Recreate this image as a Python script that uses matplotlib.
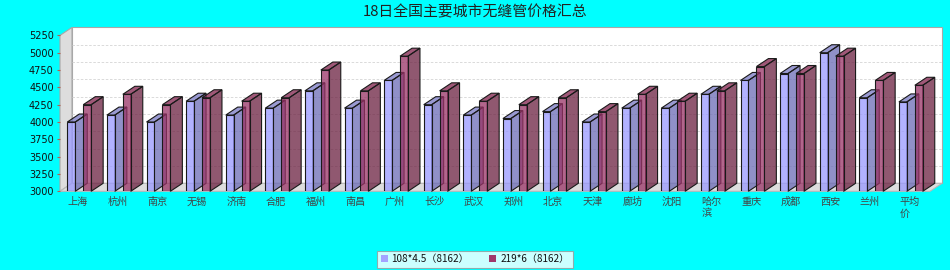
import numpy as np
import matplotlib
matplotlib.use("Agg")
import matplotlib.pyplot as plt
from matplotlib.patches import Polygon, Patch

plt.rcParams['font.family'] = ['Noto Sans CJK SC', 'DejaVu Sans']

title = "18日全国主要城市无缝管价格汇总"
cities = ["上海", "杭州", "南京", "无锡", "济南", "合肥", "福州", "南昌", "广州", "长沙",
          "武汉", "郑州", "北京", "天津", "廊坊", "沈阳", "哈尔\n滨", "重庆", "成都", "西安",
          "兰州", "平均\n价"]
series_names = ["108*4.5（8162）", "219*6（8162）"]
s1 = [4000, 4100, 4000, 4300, 4100, 4200, 4450, 4200, 4600, 4250,
      4100, 4050, 4150, 4000, 4200, 4200, 4400, 4600, 4700, 5000,
      4350, 4290]
s2 = [4250, 4400, 4250, 4350, 4300, 4350, 4750, 4450, 4950, 4450,
      4300, 4250, 4350, 4150, 4400, 4300, 4450, 4800, 4700, 4950,
      4600, 4530]
yticks = list(range(3000, 5251, 250))

W, H = 950, 270
fig = plt.figure(figsize=(9.5, 2.7), dpi=100, facecolor='#00ffff')
ax_l, ax_b, ax_w, ax_h = 60, 191.3, 870, 155.9
ax = fig.add_axes([ax_l / W, 1 - ax_b / H, ax_w / W, ax_h / H])
ax.set_facecolor('none')
xmin, xmax = -0.455, 21.515
ymin, ymax = 3000, 5250
ax.set_xlim(xmin, xmax)
ax.set_ylim(ymin, ymax)
for s in ax.spines.values():
    s.set_visible(False)

dx = 12 * (xmax - xmin) / ax_w
dy = 8 * (ymax - ymin) / ax_h

# walls
ax.add_patch(Polygon([(xmin + dx, ymin + dy), (xmax + dx, ymin + dy), (xmax + dx, ymax + dy), (xmin + dx, ymax + dy)],
                     closed=True, fc='white', ec='#a8a8a8', lw=0.8, clip_on=False, zorder=0))
ax.add_patch(Polygon([(xmin, ymin), (xmin + dx, ymin + dy), (xmin + dx, ymax + dy), (xmin, ymax)],
                     closed=True, fc='#dddddd', ec='#a8a8a8', lw=0.8, clip_on=False, zorder=0.2))
ax.add_patch(Polygon([(xmin, ymin), (xmax, ymin), (xmax + dx, ymin + dy), (xmin + dx, ymin + dy)],
                     closed=True, fc='#dddddd', ec='#b8b8b8', lw=0.8, clip_on=False, zorder=0.2))
for v in yticks[1:-1]:
    ax.plot([xmin + dx, xmax + dx], [v + dy, v + dy], color='#d4d4d4', lw=0.6,
            ls=(0, (3, 2)), clip_on=False, zorder=0.5)

x = np.arange(len(cities))
bw = 0.2
offs = [-0.17, 0.232]
fronts = ['#9999ff', '#993366']
sides = ['#6b6bb6', '#6b2040']
tops = ['#7878c4', '#80204b']
alpha = 0.75
ec = '#1a1a1a'

for i in range(len(cities)):
    for k, vals in enumerate([s1, s2]):
        v = vals[i]
        a = x[i] + offs[k] - bw / 2
        b = a + bw
        z = 2 + k
        ax.add_patch(Polygon([(b, ymin), (b + dx, ymin + dy), (b + dx, v + dy), (b, v)], closed=True,
                             fc=sides[k], alpha=alpha, ec='none', clip_on=False, zorder=z))
        ax.add_patch(Polygon([(b, ymin), (b + dx, ymin + dy), (b + dx, v + dy), (b, v)], closed=True,
                             fc='none', ec=ec, lw=0.8, clip_on=False, zorder=z + 0.01))
        ax.add_patch(Polygon([(a, v), (b, v), (b + dx, v + dy), (a + dx, v + dy)], closed=True,
                             fc=tops[k], alpha=alpha, ec='none', clip_on=False, zorder=z))
        ax.add_patch(Polygon([(a, v), (b, v), (b + dx, v + dy), (a + dx, v + dy)], closed=True,
                             fc='none', ec=ec, lw=0.8, clip_on=False, zorder=z + 0.01))
        ax.bar(x[i] + offs[k], v - ymin, width=bw, bottom=ymin, color=fronts[k], alpha=alpha,
               edgecolor='none', zorder=z + 0.02)
        ax.bar(x[i] + offs[k], v - ymin, width=bw, bottom=ymin, color='none',
               edgecolor=ec, lw=0.8, zorder=z + 0.03)

ax.set_yticks(yticks)
ax.set_yticklabels([str(t) for t in yticks], family='DejaVu Sans', fontsize=7, color='#111111')
ax.tick_params(axis='y', length=2.5, width=0.8, color='#b06050', pad=2)
ax.set_xticks(x)
ax.set_xticklabels(cities, fontsize=7.3, color='#444444', multialignment='left', linespacing=1.2)
ax.tick_params(axis='x', length=0, pad=4)

fig.text(475 / W, 1 - 12.5 / H, title, ha='center', va='center', fontsize=10.7, color='#222222')

handles = [Patch(fc='#a3a3ff', ec='none'), Patch(fc='#a0386a', ec='none')]
leg = fig.legend(handles, series_names, loc='center', bbox_to_anchor=(475 / W, 1 - 259 / H), ncol=2,
                 fontsize=7.2, frameon=True, fancybox=False, edgecolor='#999999', handlelength=0.7,
                 handleheight=0.7, handletextpad=0.4, columnspacing=2.0, borderpad=0.35,
                 borderaxespad=0)
leg.get_frame().set_linewidth(0.8)
for t in leg.get_texts():
    t.set_color('#111111')

fig.savefig('out.png', dpi=100, facecolor=fig.get_facecolor())
